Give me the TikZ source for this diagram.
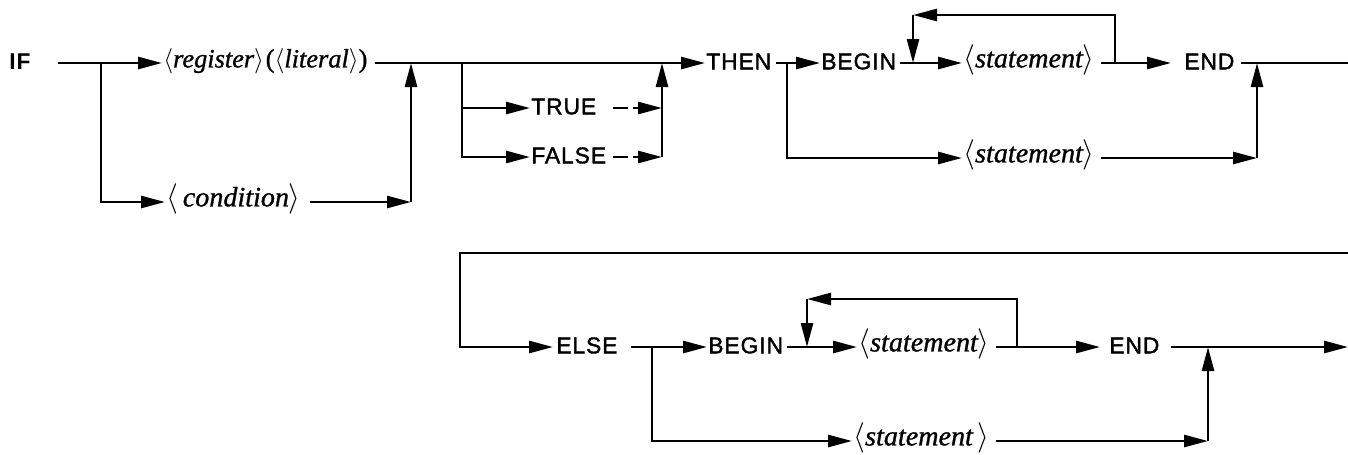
\documentclass[tikz,border=0pt]{standalone}
\usepackage{fontspec}
\usetikzlibrary{arrows.meta}
\newfontfamily\sykeyfont[FakeBold=1.5, LetterSpace=4,
  BoldFont={Liberation Sans Bold}, BoldFeatures={FakeBold=0}]{Liberation Sans}
\newfontfamily\syntfont[FakeBold=1]{Liberation Serif}
\tikzset{every picture/.style={line width=1.5pt}}
\tikzset{
  sykey/.style  ={anchor=west, inner sep=0pt, text height=0.72em, text depth=0pt,
                  font=\sykeyfont\fontsize{13}{15}\selectfont},
  synt/.style   ={anchor=west, inner sep=0pt, text height=0.5em, text depth=0pt,
                  font=\syntfont\fontsize{16}{19}\selectfont\itshape},
  syarr/.style  ={-{Triangle[length=0.48cm, width=0.24cm]}},
  sybroken/.style={dash pattern=on 0.3cm off 0.1cm on 3cm},
}
\newcommand{\angled}[1]{$\langle$#1$\rangle$}

\begin{document}
\begin{tikzpicture}[x=0.02cm, y=-0.02cm]
        \useasboundingbox (0,0) rectangle (1348,454);
        % IF part
        \node[sykey] (if) at (8,63) {\bfseries IF};
        \coordinate (s0) at (58,63);
        \coordinate (j1) at (101,63);
        \node[synt, font=\syntfont\fontsize{15}{18}\selectfont\itshape] (reg) at (162,63)
             {\angled{register}\hspace{1pt}\textup{(}\angled{literal}\textup{)}};
        \node[synt] (cond) at (165,202) {\angled{\,condition}};
        \coordinate (c1) at (411,202);
        \coordinate (m1) at (411,63);
        \coordinate (j2) at (462,63);
        \node[sykey] (true) at (530,108) {TRUE};
        \node[sykey] (false) at (530,157) {FALSE};
        \coordinate (t0) at (613,108);
        \coordinate (f0) at (613,157);
        \coordinate (t1) at (662,108);
        \coordinate (f1) at (662,157);
        \coordinate (m2) at (662,63);
        \node[sykey] (then) at (705,63) {THEN};
        \draw (s0) -- (j1);
        \draw[syarr] (j1) -- (reg.west);
        \draw[syarr] (j1) |- (cond.west);
        \draw[syarr] ([xshift=0.16cm]cond.east) -- (c1);
        \draw[syarr] (c1) -- (m1);
        \draw[syarr] ([xshift=0.12cm]reg.east) -- (then.west);
        \draw[syarr] (j2) |- (false.west);
        \draw[syarr] (j2 |- true.west) -- (true.west);
        \draw[syarr, sybroken] (t0) -- (t1);
        \draw[syarr, sybroken] (f0) -- (f1);
        \draw[syarr] (f1) -- (m2);
        % THEN part
        \coordinate (j3) at (787,63);
        \node[sykey] (begin1) at (820,63) {BEGIN};
        \coordinate (j4) at (913,63);
        \coordinate (l1) at (913,15);
        \node[synt] (st1) at (962,63) {\angled{statement}};
        \coordinate (l2) at (1115,63);
        \node[sykey] (end1) at (1183,63) {END};
        \coordinate (m3) at (1257,63);
        \coordinate (e1) at (1348,63);
        \node[synt] (st2) at (962,158) {\angled{statement}};
        \coordinate (b2) at (1257,158);
        \draw ([xshift=0.06cm]then.east) -- (j3);
        \draw[syarr] (j3) -- (begin1.west);
        \draw[syarr] (j3) |- (st2.west);
        \draw ([xshift=0.06cm]begin1.east) -- (j4);
        \draw[syarr] (j4) -- (st1.west);
        \draw ([xshift=0.1cm]st1.east) -- (l2);
        \draw[syarr] (l2) -- ([xshift=-0.24cm]end1.west);
        \draw[syarr] (l2) |- (l1);
        \draw[syarr] (l1) -- (j4);
        \draw ([xshift=0.1cm]end1.east) -- (e1);
        \draw[syarr] ([xshift=0.1cm]st2.east) -- (b2);
        \draw[syarr] (b2) -- (m3);
        % ELSE part
        \coordinate (r0) at (1348,253);
        \coordinate (r1) at (460,253);
        \node[sykey] (else) at (555,347) {ELSE};
        \coordinate (j5) at (652,347);
        \node[sykey] (begin2) at (707,347) {BEGIN};
        \coordinate (j6) at (807,347);
        \coordinate (l3) at (807,299);
        \node[synt] (st3) at (857,347) {\angled{statement}};
        \coordinate (l4) at (1017,347);
        \node[sykey] (end2) at (1108,347) {END};
        \coordinate (m4) at (1208,347);
        \coordinate (e2) at (1348,347);
        \node[synt] (st4) at (852,441) {\angled{statement\,}};
        \coordinate (b4) at (1208,441);
        \draw[syarr] (r0) -- (r1) |- ([xshift=-0.04cm]else.west);
        \draw ([xshift=0.24cm]else.east) -- (j5);
        \draw[syarr] (j5) -- (begin2.west);
        \draw[syarr] (j5) |- (st4.west);
        \draw ([xshift=0.06cm]begin2.east) -- (j6);
        \draw[syarr] (j6) -- (st3.west);
        \draw ([xshift=0.1cm]st3.east) -- (l4);
        \draw[syarr] (l4) -- ([xshift=-0.16cm]end2.west);
        \draw[syarr] (l4) |- (l3);
        \draw[syarr] (l3) -- (j6);
        \draw[syarr] ([xshift=0.2cm]end2.east) -- (e2);
        \draw[syarr] ([xshift=0.1cm]st4.east) -- (b4);
        \draw[syarr] (b4) -- (m4);
    \end{tikzpicture}
\end{document}
